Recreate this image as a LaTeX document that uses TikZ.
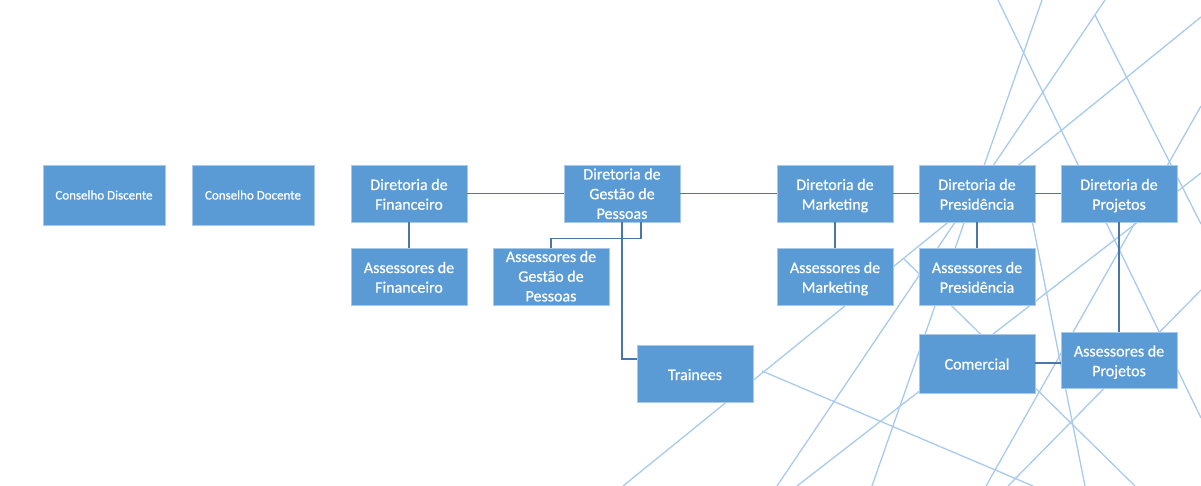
\documentclass[tikz,border=0pt]{standalone}
\usepackage{fontspec}
\setmainfont{Carlito}
\newfontfamily\boxfont[BoldFont=Carlito, BoldFeatures={FakeBold=0.5}]{Carlito}
\definecolor{boxblue}{HTML}{5B9BD5}
\definecolor{boxedge}{HTML}{A9C9EA}
\definecolor{bgline}{HTML}{A8CAEC}
\definecolor{linkblue}{HTML}{4A76A8}
\tikzset{
  orgbox/.style={rectangle, fill=boxblue, draw=boxedge, line width=0.8pt,
    minimum width=116pt, minimum height=57pt, inner sep=0pt},
  smallbox/.style={orgbox, minimum width=122pt, minimum height=60pt},
  boxtext/.style={text=white, align=center, inner sep=0pt, anchor=base,
    font=\boxfont\bfseries\fontsize{16}{19.7}\selectfont},
  smalltext/.style={boxtext, font=\boxfont\bfseries\fontsize{13}{16}\selectfont},
  link/.style={draw=linkblue, line width=1.3pt},
  deco/.style={draw=bgline, line width=1.3pt}
}
\begin{document}
\begin{tikzpicture}[x=1pt,y=-1pt]
\useasboundingbox (0,0) rectangle (1201,486);
% decorative background lines
\begin{scope}
\clip (0,0) rectangle (1201,486);
\draw[deco] (998,0) -- (1201,418);
\draw[deco] (1042,0) -- (872,486);
\draw[deco] (1105,0) -- (777,486);
\draw[deco] (1201,17) -- (623,486);
\draw[deco] (1095,15) -- (1201,224);
\draw[deco] (1201,106) -- (986,486);
\draw[deco] (1201,173) -- (797,486);
\draw[deco] (903,258) -- (1135,486);
\draw[deco] (1026,190) -- (1085,486);
\draw[deco] (1201,290) -- (1008,486);
\draw[deco] (762,371) -- (1033,486);
\end{scope}
% boxes
\node[smallbox] (cd)  at (104,195) {};
\node[smallbox] (cdo) at (253,195) {};
\node[orgbox] (fin)   at (409,193.5) {};
\node[orgbox] (afin)  at (409,276.5) {};
\node[orgbox] (gp)    at (622,193.5) {};
\node[orgbox] (agp)   at (551,276.5) {};
\node[orgbox] (tr)    at (695,373.5) {};
\node[orgbox] (mkt)   at (835,193.5) {};
\node[orgbox] (amkt)  at (835,276.5) {};
\node[orgbox] (pres)  at (977,193.5) {};
\node[orgbox] (apres) at (977,276.5) {};
\node[orgbox] (proj)  at (1119,193.5) {};
\node[orgbox, minimum height=59pt] (com) at (977,363.5) {};
\node[orgbox, minimum height=56pt] (aproj) at (1119,360) {};
% box texts (anchored at the last baseline)
\node[smalltext] (cd-t)  at (104,199.5) {Conselho Discente};
\node[smalltext] (cdo-t) at (253,199.5) {Conselho Docente};
\node[boxtext] (fin-t)   at (409,209.7) {Diretoria de\\Financeiro};
\node[boxtext] (afin-t)  at (409,292.7) {Assessores de\\Financeiro};
\node[boxtext] (gp-t)    at (622,218.9) {Diretoria de\\Gestão de\\Pessoas};
\node[boxtext] (agp-t)   at (551,301.4) {Assessores de\\Gestão de\\Pessoas};
\node[boxtext] (tr-t)    at (695,380) {Trainees};
\node[boxtext] (mkt-t)   at (835,209.7) {Diretoria de\\Marketing};
\node[boxtext] (amkt-t)  at (835,292.7) {Assessores de\\Marketing};
\node[boxtext] (pres-t)  at (977,209.7) {Diretoria de\\Presidência};
\node[boxtext] (apres-t) at (977,292.7) {Assessores de\\Presidência};
\node[boxtext] (proj-t)  at (1119,209.7) {Diretoria de\\Projetos};
\node[boxtext] (com-t)   at (977,369.5) {Comercial};
\node[boxtext] (aproj-t) at (1119,376.2) {Assessores de\\Projetos};
% connectors
\draw[link] (fin.east) -- (gp.west);
\draw[link] (gp.east) -- (mkt.west);
\draw[link] (mkt.east) -- (pres.west);
\draw[link] (pres.east) -- (proj.west);
\draw[link] (fin.south) -- (afin.north);
\draw[link] (mkt.south) -- (amkt.north);
\draw[link] (pres.south) -- (apres.north);
\draw[link] (proj.south) -- (aproj.north);
\draw[link] ([xshift=19pt]gp.south) -- ++(0,16) -| (agp.north);
\draw[link] (gp.south) |- ([yshift=14.5pt]tr.west);
\draw[link] ([yshift=0.5pt]com.east) -- ([yshift=0.5pt]com.east -| aproj.west);
\end{tikzpicture}
\end{document}
